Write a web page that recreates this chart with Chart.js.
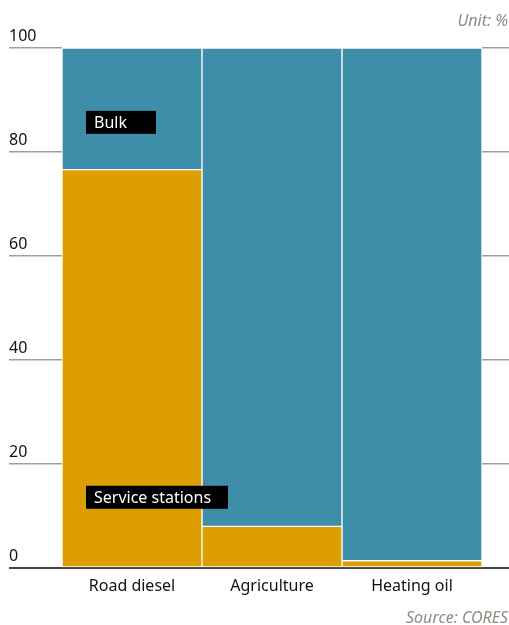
<!DOCTYPE html>
<html>
<head>
<meta charset="utf-8">
<script src="https://cdn.jsdelivr.net/npm/chart.js@4"></script>
<style>
  html, body { margin: 0; padding: 0; background: #fff; }
  #wrap { position: relative; width: 509px; height: 625px; }
  canvas { position: absolute; left: 0; top: 0; }
  .note { position: absolute; right: 1px; font-family: 'Noto Sans', sans-serif; font-style: italic; font-size: 16px; color: #8c8c82; white-space: nowrap; line-height: 20px; }
</style>
</head>
<body>
<div id="wrap">
  <canvas id="c" width="509" height="625"></canvas>
  <div class="note" style="top:10px;">Unit: %</div>
  <div class="note" style="top:607px;">Source: CORES</div>
</div>
<script>
const categories = ['Road diesel', 'Agriculture', 'Heating oil'];
const serviceStations = [76.6, 8.0, 1.4];
const bulk = [23.4, 92.0, 98.6];
const yTicks = [0, 20, 40, 60, 80, 100];
const seriesNames = ['Service stations', 'Bulk'];
const labelValues = [13.6, 85.7];

const ORANGE = '#dc9e00';
const TEAL = '#3f8ea9';
const GRID = '#a0a098';
const BASE = '#454545';
const FONT = "'Noto Sans', sans-serif";

const annotPlugin = {
  id: 'annot',
  afterDatasetsDraw(chart) {
    const ctx = chart.ctx;
    const xs = chart.scales.x, ys = chart.scales.y;
    const cx = xs.getPixelForValue(0);
    const boxes = [
      { text: seriesNames[0], v: labelValues[0], w: 142 },
      { text: seriesNames[1], v: labelValues[1], w: 70 }
    ];
    ctx.save();
    ctx.font = '16px ' + FONT;
    boxes.forEach(b => {
      const left = cx - 46;
      const cy = ys.getPixelForValue(b.v);
      ctx.fillStyle = '#000';
      ctx.fillRect(left, cy - 11.5, b.w, 23);
      ctx.fillStyle = '#fff';
      ctx.textBaseline = 'middle';
      ctx.textAlign = 'left';
      ctx.fillText(b.text, left + 8, cy + 1);
    });
    ctx.restore();
  }
};

new Chart(document.getElementById('c'), {
  type: 'bar',
  data: {
    labels: categories,
    datasets: [
      { label: seriesNames[0], data: serviceStations, backgroundColor: ORANGE },
      { label: seriesNames[1], data: bulk, backgroundColor: TEAL }
    ]
  },
  options: {
    responsive: false,
    animation: false,
    layout: { padding: { left: 9, right: 0, top: 48, bottom: 17 } },
    datasets: {
      bar: {
        categoryPercentage: 1, barPercentage: 1,
        borderWidth: 1, borderColor: '#ffffff', borderSkipped: false
      }
    },
    plugins: { legend: { display: false }, tooltip: { enabled: false }, title: { display: false } },
    scales: {
      x: {
        stacked: true,
        z: 1,
        grid: { display: false, drawTicks: false },
        border: { display: true, color: BASE, width: 2 },
        ticks: { color: '#111', font: { family: FONT, size: 16 }, padding: 9 },
        afterFit(s) { s.height = 40; }
      },
      y: {
        stacked: true,
        position: 'left',
        min: 0, max: 100,
        afterBuildTicks(s) { s.ticks = yTicks.map(v => ({ value: v })); },
        grid: {
          drawOnChartArea: false,
          tickLength: 53,
          color: c => (c.tick && c.tick.value === 0 ? BASE : GRID),
          lineWidth: c => (c.tick && c.tick.value === 0 ? 2 : 1.5)
        },
        border: { display: false },
        ticks: { color: '#111', font: { family: FONT, size: 16 }, crossAlign: 'far', labelOffset: -12, padding: 0 },
        afterFit(s) { s.width = 53; }
      },
      y2: {
        position: 'right',
        min: 0, max: 100,
        afterBuildTicks(s) { s.ticks = yTicks.map(v => ({ value: v })); },
        grid: {
          drawOnChartArea: false,
          tickLength: 27,
          color: c => (c.tick && c.tick.value === 0 ? BASE : GRID),
          lineWidth: c => (c.tick && c.tick.value === 0 ? 2 : 1.5)
        },
        border: { display: false },
        ticks: { display: false },
        afterFit(s) { s.width = 27; }
      }
    }
  },
  plugins: [annotPlugin]
});
</script>
</body>
</html>
